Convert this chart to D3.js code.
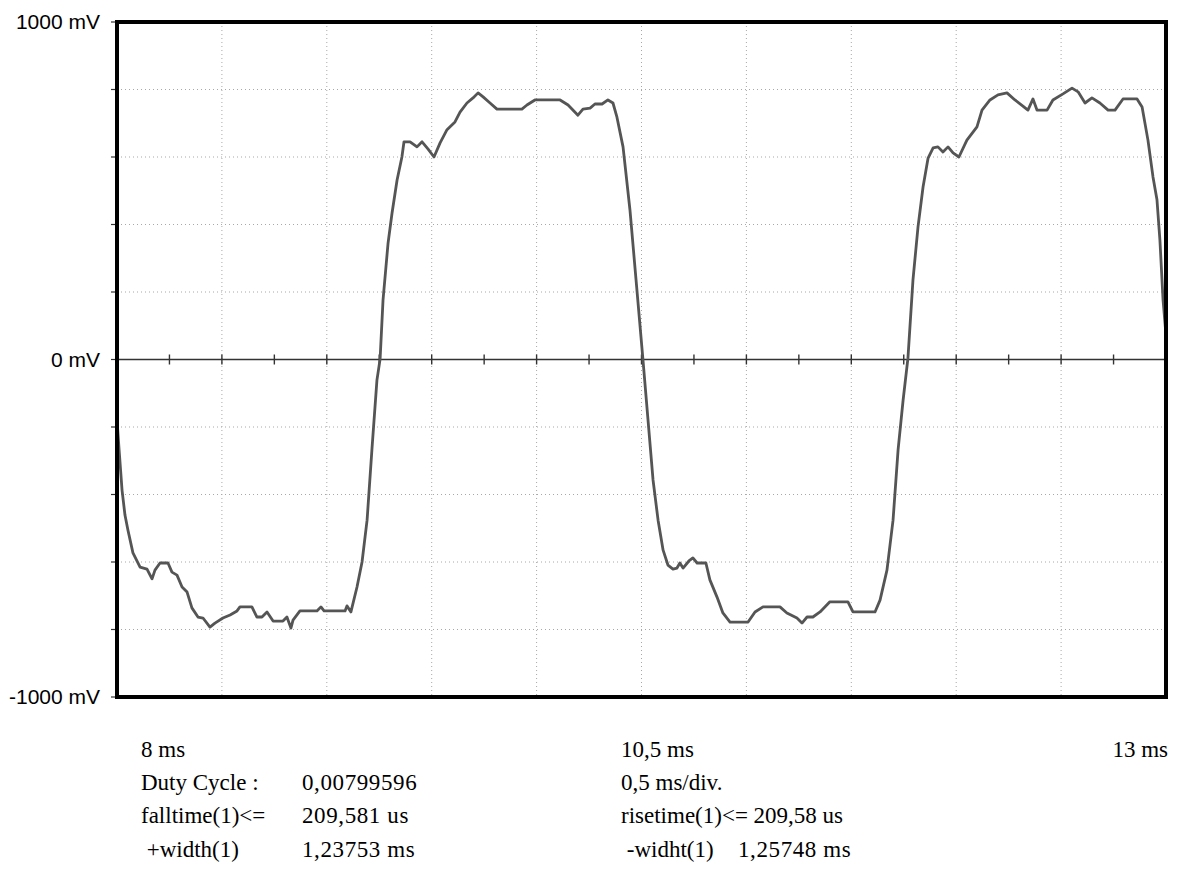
<!DOCTYPE html>
<html><head><meta charset="utf-8">
<script src="https://cdn.jsdelivr.net/npm/d3@7"></script>
<style>body{margin:0;background:#fff}svg{display:block}</style>
</head><body><svg id="c" width="1178" height="876"></svg>
<script>
// ---- data (time in ms, voltage in mV) ----
const timeMs = [8.000,8.010,8.024,8.038,8.052,8.076,8.110,8.143,8.167,8.181,8.205,8.243,8.262,8.286,8.310,8.334,8.357,8.386,8.410,8.443,8.467,8.505,8.539,8.572,8.586,8.643,8.667,8.691,8.715,8.744,8.791,8.810,8.829,8.839,8.872,8.953,8.972,8.987,9.087,9.096,9.115,9.144,9.168,9.192,9.215,9.239,9.254,9.268,9.292,9.311,9.335,9.358,9.368,9.397,9.430,9.454,9.482,9.511,9.540,9.573,9.611,9.635,9.668,9.697,9.721,9.745,9.778,9.811,9.930,9.954,9.992,10.112,10.150,10.197,10.221,10.255,10.278,10.312,10.340,10.364,10.383,10.412,10.445,10.474,10.507,10.531,10.555,10.579,10.603,10.626,10.650,10.669,10.683,10.698,10.726,10.745,10.765,10.807,10.826,10.860,10.888,10.922,11.008,11.041,11.079,11.160,11.193,11.241,11.265,11.289,11.317,11.351,11.398,11.484,11.508,11.613,11.637,11.670,11.699,11.723,11.747,11.770,11.794,11.818,11.842,11.866,11.890,11.913,11.937,11.961,11.985,12.013,12.051,12.099,12.123,12.161,12.199,12.242,12.280,12.318,12.342,12.366,12.385,12.433,12.461,12.509,12.552,12.581,12.614,12.647,12.685,12.724,12.757,12.795,12.862,12.886,12.914,12.938,12.957,12.971,12.986,13.000];
const voltageMv = [-179,-268,-387,-461,-505,-573,-615,-621,-650,-624,-603,-603,-630,-639,-674,-689,-736,-763,-766,-793,-781,-766,-757,-745,-733,-733,-763,-763,-748,-775,-775,-763,-796,-772,-745,-745,-733,-745,-745,-730,-748,-674,-600,-476,-268,-61,1,176,345,434,532,600,645,645,630,645,624,600,642,681,704,733,760,775,790,778,760,742,742,754,769,769,754,724,742,745,757,757,769,760,718,630,443,236,-1,-179,-357,-476,-565,-609,-621,-618,-603,-618,-597,-588,-603,-603,-653,-704,-751,-778,-778,-748,-733,-733,-751,-766,-781,-763,-763,-748,-718,-718,-748,-748,-713,-624,-476,-268,-120,4,236,393,511,597,627,630,615,630,612,600,650,689,739,769,784,790,769,751,739,772,739,739,769,787,804,793,760,775,760,739,739,772,772,748,650,541,473,354,176,73];
const yTickValues = [1000, 0, -1000];
const yTickLabels = ["1000 mV", "0 mV", "-1000 mV"];
const xTickValues = [8, 10.5, 13];
const xTickLabels = ["8 ms", "10,5 ms", "13 ms"];
const infoLeftLabels = ["Duty Cycle :", "falltime(1)<=", "\u00a0+width(1)"];
const infoLeftValues = ["0,00799596", "209,581 us", "1,23753 ms"];
const infoRightLabels = ["0,5 ms/div.", "risetime(1)<= 209,58 us", "\u00a0-widht(1)"];
const infoRightValues = ["", "", "1,25748 ms"];

// ---- layout ----
const L = 117, T = 22, R = 1166, B = 697;
const svg = d3.select("#c");
const x = d3.scaleLinear().domain([8, 13]).range([L, R]);
const y = d3.scaleLinear().domain([-1000, 1000]).range([B, T]);

// grid
const g = svg.append("g");
g.selectAll("line.vg").data(d3.range(8.5, 13, 0.5)).join("line")
  .attr("x1", d => x(d)).attr("x2", d => x(d)).attr("y1", T).attr("y2", B)
  .attr("stroke", "#a8a8a8").attr("stroke-width", 1).attr("stroke-dasharray", "1,3");
g.selectAll("line.hg").data(d3.range(-800, 801, 200).filter(v => v !== 0)).join("line")
  .attr("y1", d => y(d)).attr("y2", d => y(d)).attr("x1", L).attr("x2", R)
  .attr("stroke", "#a8a8a8").attr("stroke-width", 1).attr("stroke-dasharray", "1,3");

// zero axis with ticks
g.append("line").attr("x1", L).attr("x2", R).attr("y1", y(0)).attr("y2", y(0))
  .attr("stroke", "#333").attr("stroke-width", 1.6);
g.selectAll("line.zt").data(d3.range(8.25, 13, 0.25)).join("line")
  .attr("x1", d => x(d)).attr("x2", d => x(d)).attr("y1", y(0) - 5).attr("y2", y(0) + 5)
  .attr("stroke", "#333").attr("stroke-width", 1.4);

// left ticks
g.selectAll("line.lt").data(d3.range(-1000, 1001, 200)).join("line")
  .attr("x1", L - 6).attr("x2", L).attr("y1", d => y(d)).attr("y2", d => y(d))
  .attr("stroke", "#333").attr("stroke-width", 1.2);

// trace
const pts = timeMs.map((t, i) => [t, voltageMv[i]]);
svg.append("path").datum(pts)
  .attr("d", d3.line().x(d => x(d[0])).y(d => y(d[1])))
  .attr("fill", "none").attr("stroke", "#555").attr("stroke-width", 2.8)
  .attr("stroke-linejoin", "round");

// frame
svg.append("rect").attr("x", L).attr("y", T).attr("width", R - L).attr("height", B - T)
  .attr("fill", "none").attr("stroke", "#000").attr("stroke-width", 4);

// y labels
svg.selectAll("text.yl").data(yTickValues).join("text")
  .attr("x", 100).attr("y", d => y(d)).attr("dy", "0.35em")
  .attr("text-anchor", "end")
  .attr("font-family", "Liberation Sans, Arial, sans-serif").attr("font-size", 21)
  .text((d, i) => yTickLabels[i]);

// bottom text
const serif = "Liberation Serif, Times New Roman, serif";
const fs = 23;
const xl = svg.append("g").attr("font-family", serif).attr("font-size", fs).attr("fill", "#000");
const xLabelPos = [141, 621, 1168];
xl.selectAll("text.xt").data(xTickValues).join("text")
  .attr("x", (d, i) => xLabelPos[i]).attr("y", 757)
  .attr("text-anchor", (d, i) => i === 2 ? "end" : "start")
  .text((d, i) => xTickLabels[i]);
const rowY = [790, 823, 857];
xl.selectAll("text.il").data(infoLeftLabels).join("text")
  .attr("x", 141).attr("y", (d, i) => rowY[i]).text(d => d);
xl.selectAll("text.iv").data(infoLeftValues).join("text")
  .attr("x", 302).attr("y", (d, i) => rowY[i]).attr("letter-spacing", 0.6).text(d => d);
xl.selectAll("text.rl").data(infoRightLabels).join("text")
  .attr("x", 621).attr("y", (d, i) => rowY[i]).text(d => d);
xl.selectAll("text.rv").data(infoRightValues).join("text")
  .attr("x", 738).attr("y", (d, i) => rowY[i]).attr("letter-spacing", 0.6).text(d => d);
</script>
</body></html>
